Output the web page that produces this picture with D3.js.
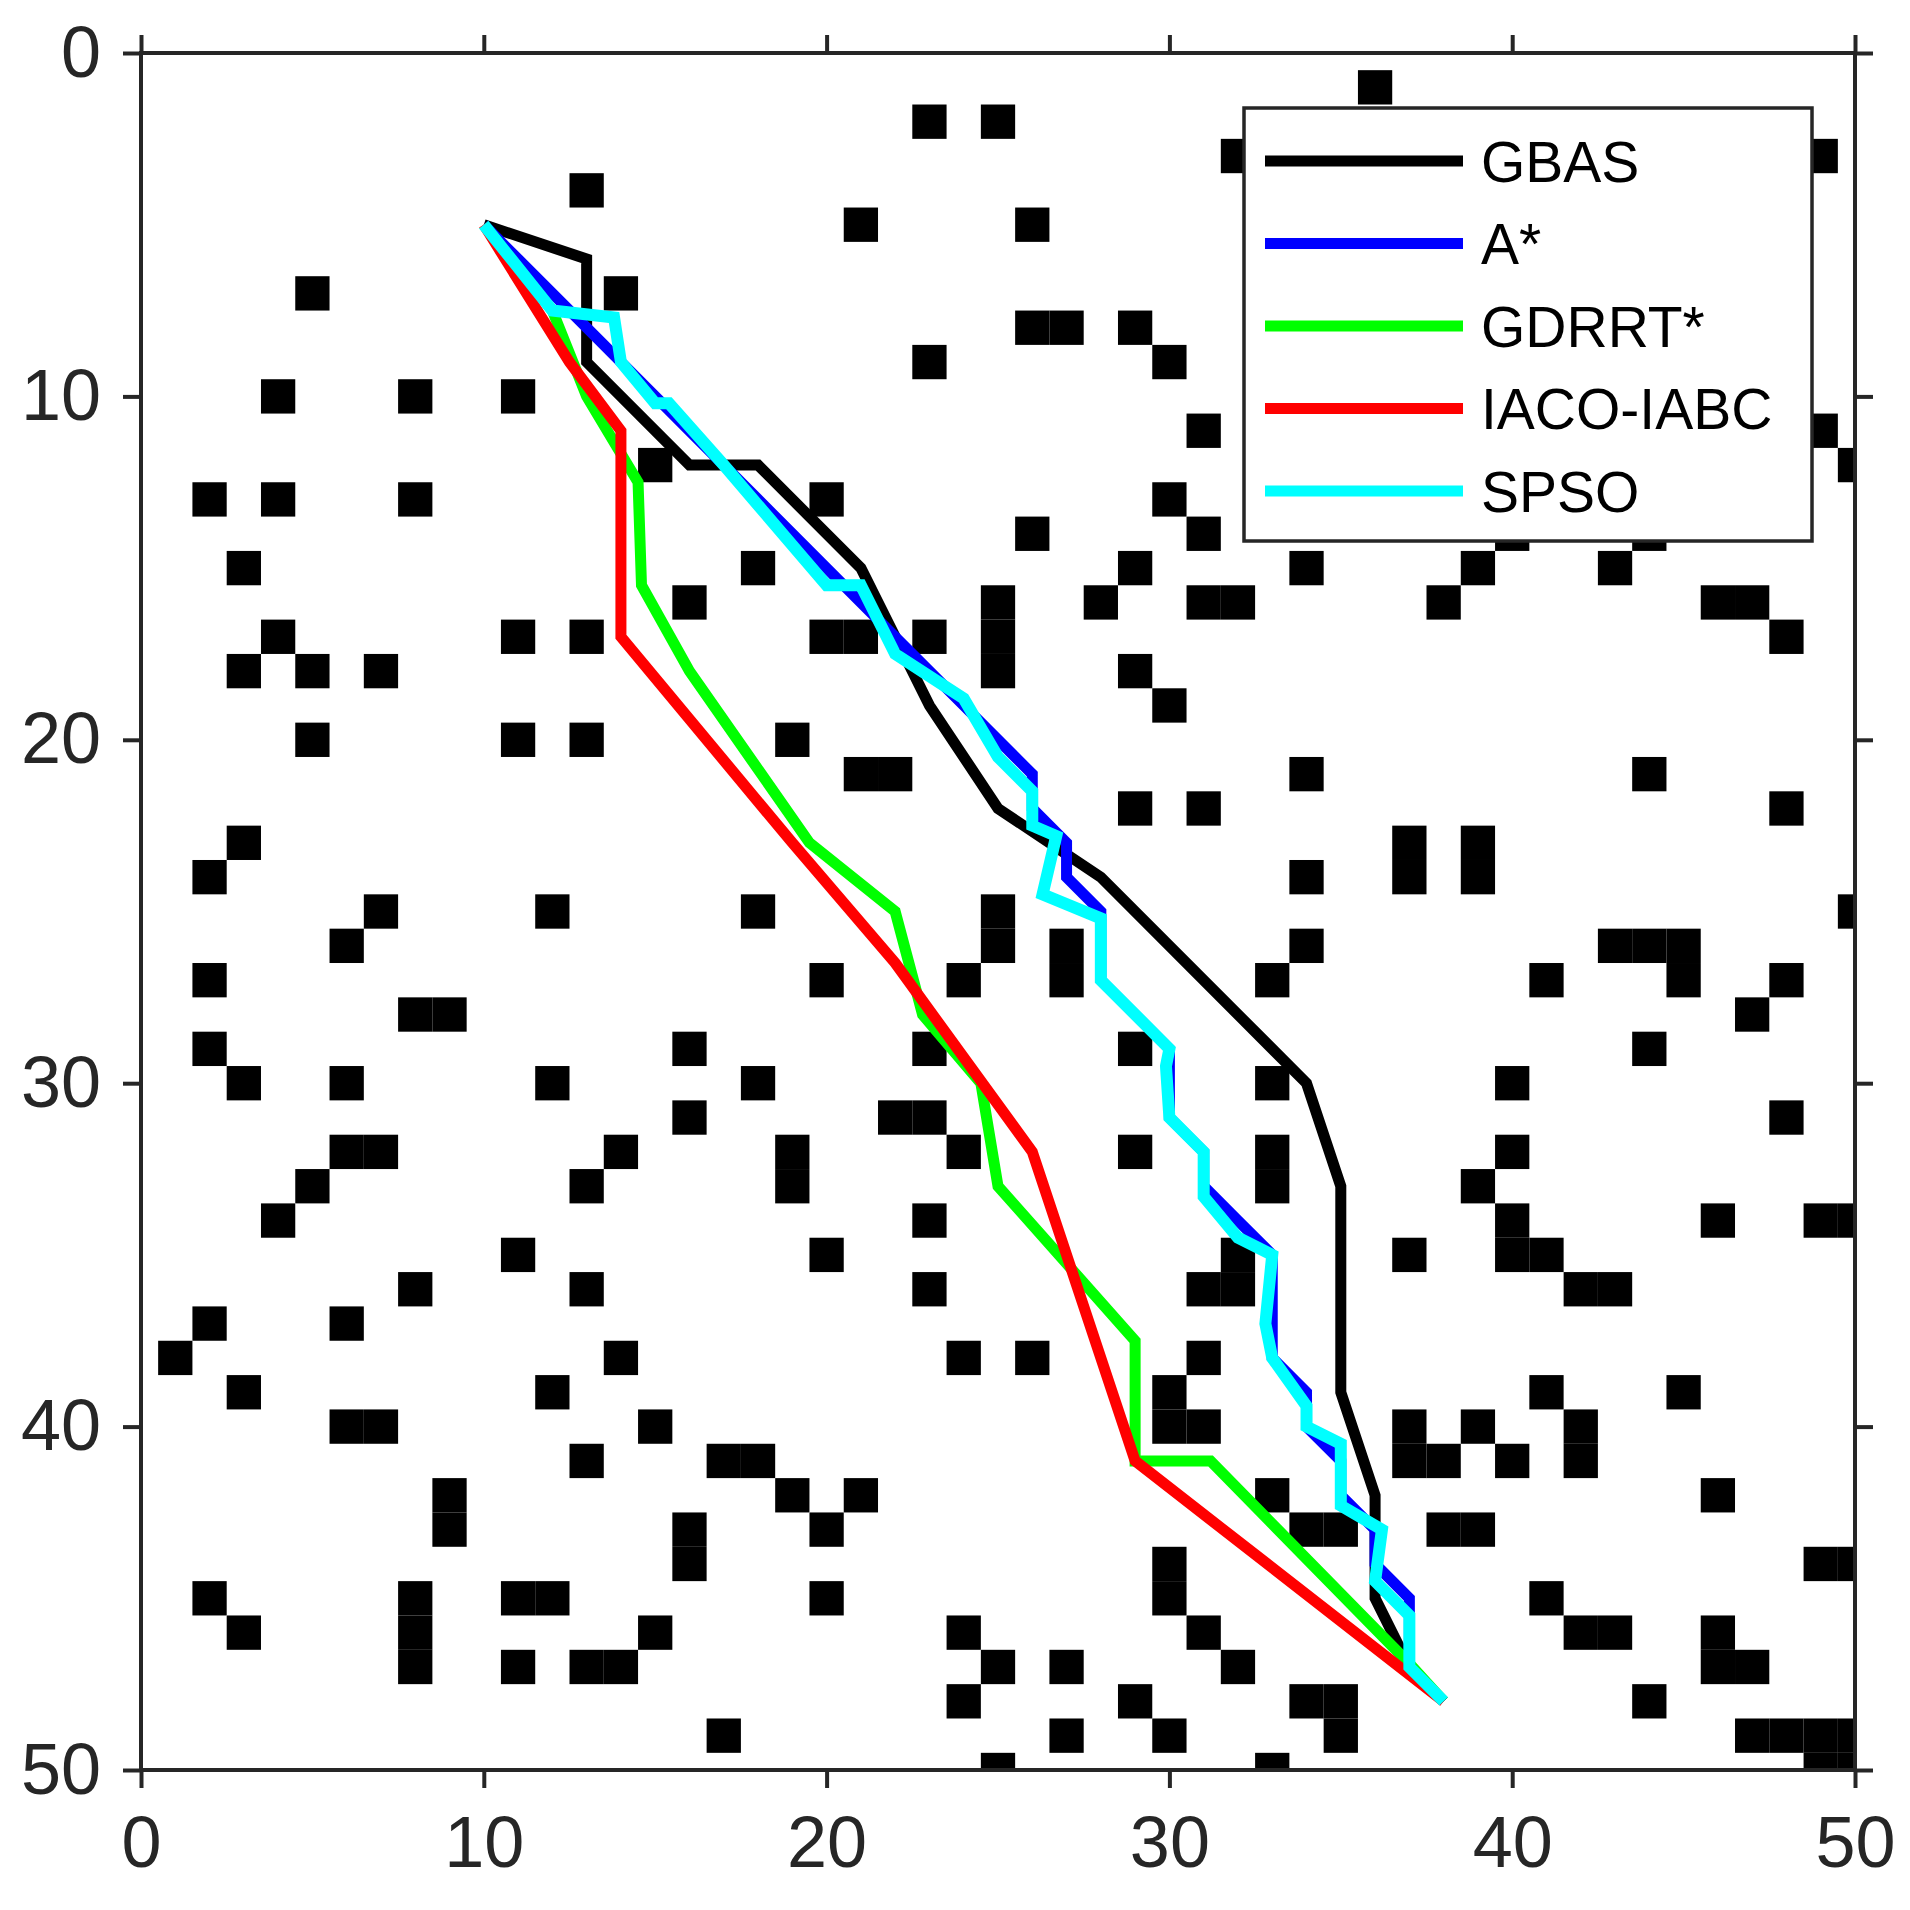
<!DOCTYPE html>
<html><head><meta charset="utf-8">
<script src="https://cdn.jsdelivr.net/npm/d3@7"></script>
<style>body{margin:0;background:#fff}text{font-family:"Liberation Sans",Arial,sans-serif}</style>
</head><body><div id="chart"></div>
<script>
const obstacles = [
  [36,1],[23,2],[25,2],[32,3],[49,3],[13,4],[21,5],[26,5],[5,7],[14,7],[26,8],[27,8],[29,8],
  [23,9],[30,9],[4,10],[8,10],[11,10],[31,11],[49,11],[15,12],[50,12],
  [2,13],[4,13],[8,13],[20,13],[30,13],[26,14],[31,14],[40,14],[44,14],
  [3,15],[18,15],[29,15],[34,15],[39,15],[43,15],
  [16,16],[25,16],[28,16],[31,16],[32,16],[38,16],[46,16],[47,16],
  [4,17],[11,17],[13,17],[20,17],[21,17],[23,17],[25,17],[48,17],
  [3,18],[5,18],[7,18],[25,18],[29,18],[30,19],[5,20],[11,20],[13,20],[19,20],
  [21,21],[22,21],[34,21],[44,21],[29,22],[31,22],[48,22],[3,23],[37,23],[39,23],
  [2,24],[34,24],[37,24],[39,24],[7,25],[12,25],[18,25],[25,25],[50,25],
  [6,26],[25,26],[27,26],[34,26],[43,26],[44,26],[45,26],
  [2,27],[20,27],[24,27],[27,27],[33,27],[41,27],[45,27],[48,27],[8,28],[9,28],[47,28],
  [2,29],[16,29],[23,29],[29,29],[44,29],[3,30],[6,30],[12,30],[18,30],[33,30],[40,30],
  [16,31],[22,31],[23,31],[48,31],
  [6,32],[7,32],[14,32],[19,32],[24,32],[29,32],[33,32],[40,32],
  [5,33],[13,33],[19,33],[33,33],[39,33],[4,34],[23,34],[40,34],[46,34],[49,34],[50,34],
  [11,35],[20,35],[32,35],[37,35],[40,35],[41,35],
  [8,36],[13,36],[23,36],[31,36],[32,36],[42,36],[43,36],[2,37],[6,37],
  [1,38],[14,38],[24,38],[26,38],[31,38],[3,39],[12,39],[30,39],[41,39],[45,39],
  [6,40],[7,40],[15,40],[30,40],[31,40],[37,40],[39,40],[42,40],
  [13,41],[17,41],[18,41],[37,41],[38,41],[40,41],[42,41],
  [9,42],[19,42],[21,42],[33,42],[46,42],
  [9,43],[16,43],[20,43],[34,43],[35,43],[38,43],[39,43],[16,44],[30,44],[49,44],[50,44],
  [2,45],[8,45],[11,45],[12,45],[20,45],[30,45],[41,45],
  [3,46],[8,46],[15,46],[24,46],[31,46],[42,46],[43,46],[46,46],
  [8,47],[11,47],[13,47],[14,47],[25,47],[27,47],[32,47],[46,47],[47,47],
  [24,48],[29,48],[34,48],[35,48],[44,48],
  [17,49],[27,49],[30,49],[35,49],[47,49],[48,49],[49,49],[50,49],
  [25,50],[33,50],[49,50],[50,50]
];
const gbas = [[10,5],[13,6],[13,9],[16,12],[18,12],[21,15],[23,19],[25,22],[28,24],[34,30],[35,33],[35,39],[36,42],[36,45],[37,47],[38,48]];
const astar = [[10,5],[13,8],[16,11],[20,15],[22,17],[24,19],[26,21],[26,22],[27,23],[27,24],[28,25],[28,27],[30,29],[30,31],[31,32],[31,33],[32,34],[33,35],[33,38],[34,39],[34,40],[35,41],[35,42],[36,43],[36,44],[37,45],[37,47],[38,48]];
const gdrrt = [[10,5],[12,7.5],[13,10],[14.5,12.5],[14.6,15.5],[16,18],[19.5,23],[22,25],[22.8,28],[24.5,30],[25,33],[29,37.5],[29,41],[31.2,41],[37,46.9],[38,48]];
const iaco = [[10,5],[12.5,9],[14,11],[14,17],[19,23],[22,26.5],[26,32],[29,41],[38,48]];
const spso = [[10,5],[12,7.5],[13.8,7.7],[14,9],[15,10.2],[15.4,10.2],[17,12],[20,15.5],[21,15.5],[22,17.5],[24,18.8],[25,20.5],[26,21.5],[26,22.5],[26.7,22.8],[26.3,24.5],[28,25.2],[28,27],[30,29],[29.9,29.5],[30,31],[31,32],[31,33.3],[32,34.5],[33,35],[32.8,37],[33,38],[34,39.4],[34,40],[35,40.5],[35,42.3],[36.2,43],[36,44.5],[37,45.5],[37,47],[38,48]];
const seriesNames = ["GBAS","A*","GDRRT*","IACO-IABC","SPSO"];
const seriesColors = ["#000000","#0000ff","#00ff00","#ff0000","#00ffff"];
const seriesData = [gbas, astar, gdrrt, iaco, spso];
const ticks = [0,10,20,30,40,50];

const W = 1910, H = 1910;
const x = d3.scaleLinear().domain([0,50]).range([141,1855]);
const y = d3.scaleLinear().domain([0,50]).range([53,1770]);
const svg = d3.select("#chart").append("svg").attr("width",W).attr("height",H);

svg.append("defs").append("clipPath").attr("id","clip").append("rect")
  .attr("x",x(0)).attr("y",y(0)).attr("width",x(50)-x(0)).attr("height",y(50)-y(0));

const cw = x(1)-x(0), ch = y(1)-y(0);
svg.append("g").attr("clip-path","url(#clip)").selectAll("rect").data(obstacles).enter().append("rect")
  .attr("x",d=>x(d[0]-0.5)).attr("y",d=>y(d[1]-0.5)).attr("width",cw).attr("height",ch).attr("fill","#000");

const line = d3.line().x(d=>x(d[0])).y(d=>y(d[1]));
svg.append("g").selectAll("path").data(seriesData).enter().append("path")
  .attr("d",line).attr("fill","none").attr("stroke",(d,i)=>seriesColors[i])
  .attr("stroke-width",(d,i)=>i===4?12:11).attr("stroke-linejoin","miter");

const ax = "#262626";
const mk = (g)=>g.call(s=>s.selectAll(".domain").remove()).call(s=>s.selectAll("line").attr("stroke",ax).attr("stroke-width",4))
  .call(s=>s.selectAll("text").attr("fill",ax).style("font-size","72px"));
svg.append("g").attr("transform",`translate(0,${y(50)})`).call(d3.axisBottom(x).tickValues(ticks).tickSize(18).tickPadding(28)).call(mk);
svg.append("g").attr("transform",`translate(0,${y(0)})`).call(d3.axisTop(x).tickValues(ticks).tickSize(18).tickFormat("")).call(mk);
svg.append("g").attr("transform",`translate(${x(0)},0)`).call(d3.axisLeft(y).tickValues(ticks).tickSize(18).tickPadding(22)).call(mk);
svg.append("g").attr("transform",`translate(${x(50)},0)`).call(d3.axisRight(y).tickValues(ticks).tickSize(18).tickFormat("")).call(mk);
svg.append("rect").attr("x",x(0)).attr("y",y(0)).attr("width",x(50)-x(0)).attr("height",y(50)-y(0))
  .attr("fill","none").attr("stroke",ax).attr("stroke-width",4);

const lg = svg.append("g");
lg.append("rect").attr("x",1244).attr("y",108).attr("width",568).attr("height",433).attr("fill","#fff").attr("stroke",ax).attr("stroke-width",3.5);
seriesNames.forEach((n,i)=>{
  const yy = 161 + i*82.5;
  lg.append("line").attr("x1",1265).attr("x2",1463).attr("y1",yy).attr("y2",yy).attr("stroke",seriesColors[i]).attr("stroke-width",11);
  lg.append("text").attr("x",1481).attr("y",yy).attr("dy","0.36em").style("font-size","57px").attr("fill","#000").text(n);
});
</script></body></html>
